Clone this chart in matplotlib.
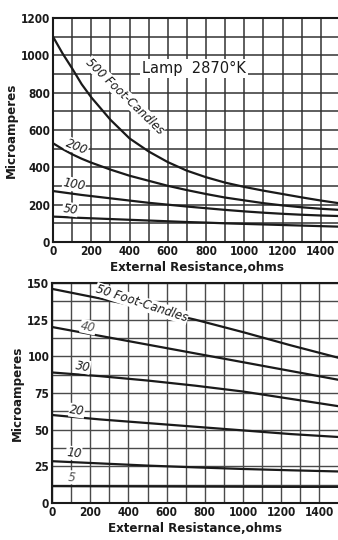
import matplotlib
matplotlib.use("Agg")
import matplotlib.pyplot as plt
import numpy as np

# ---------------- data ----------------
resistance_top = [0, 50, 100, 150, 200, 300, 400, 500, 600, 700, 800, 900, 1000, 1100, 1200, 1300, 1400, 1500]
fc500 = [1100, 1010, 930, 845, 775, 655, 555, 485, 428, 382, 347, 318, 295, 275, 257, 239, 222, 207]
fc200 = [529, 498, 470, 446, 425, 388, 355, 328, 301, 278, 257, 238, 223, 208, 196, 186, 178, 172]
fc100 = [273, 266, 259, 252, 246, 234, 222, 210, 200, 190, 181, 172, 164, 157, 151, 146, 142, 139]
fc50 = [136, 134, 131, 129, 127, 123, 119, 115, 111, 107, 104, 100, 97, 94, 91, 88, 85, 82]

resistance_bot = [0, 250, 500, 750, 1000, 1250, 1500]
b50 = [146, 139.5, 132.5, 125, 116.5, 107.5, 99]
b40 = [120, 114, 108, 102, 96, 90, 84]
b30 = [89, 86.5, 83.5, 80, 76, 71, 66]
b20 = [60, 57, 54.5, 52, 49.5, 47, 45]
b10 = [28.5, 27, 25.5, 24.3, 23.2, 22.3, 21.5]
b5 = [11.5, 11.4, 11.3, 11.2, 11.1, 11.0, 11.0]

top_yticks = [0, 200, 400, 600, 800, 1000, 1200]
bot_yticks = [0, 25, 50, 75, 100, 125, 150]
xticks = [0, 200, 400, 600, 800, 1000, 1200, 1400]

xlabel = "External Resistance,ohms"
ylabel = "Microamperes"

# ---------------- figure ----------------
W, H = 338, 540
fig = plt.figure(figsize=(W / 100, H / 100), dpi=100)
fig.patch.set_facecolor("white")

font = dict(family="DejaVu Sans", fontstretch="condensed", fontweight="bold")
INK = "#1a1a1a"


def style_axes(ax, ymax, ystep, yticks, grid_color, grid_lw):
    ax.set_xlim(0, 1500)
    ax.set_ylim(0, ymax)
    ax.set_xticks(np.arange(0, 1501, 100), minor=True)
    ax.set_yticks(np.arange(0, ymax + 0.01, ystep), minor=True)
    ax.set_xticks(xticks)
    ax.set_yticks(yticks)
    ax.set_xticklabels([str(v) for v in xticks], **font, fontsize=8.5, color=INK)
    ax.set_yticklabels([str(v) for v in yticks], **font, fontsize=8.5, color=INK)
    ax.grid(which="minor", color=grid_color, lw=grid_lw)
    ax.grid(which="major", color=grid_color, lw=grid_lw)
    ax.tick_params(which="both", length=0, pad=2)
    for s in ["left", "bottom", "top"]:
        ax.spines[s].set_linewidth(1.5)
        ax.spines[s].set_color(INK)
    ax.spines["right"].set_visible(False)
    ax.set_axisbelow(True)
    ax.set_xlabel(xlabel, **font, fontsize=9.5, color=INK, labelpad=2)
    ax.set_ylabel(ylabel, **font, fontsize=9.5, color=INK, labelpad=2)


def label(ax, x, y, s, rot, size=8.5, color=INK):
    ax.text(x, y, s, rotation=rot, rotation_mode="anchor", ha="center", va="center",
            family="DejaVu Sans", fontstyle="italic", fontsize=size, color=color,
            bbox=dict(facecolor="white", edgecolor="none", pad=0.3), zorder=4)


# top axes: 0 at x=53, 1500 at x=340 ; y: 1200 at 18, 0 at 242
ax1 = fig.add_axes([53 / W, 1 - 242 / H, 287 / W, 224 / H])
style_axes(ax1, 1200, 100, top_yticks, "#333333", 1.1)
for vals in (fc500, fc200, fc100, fc50):
    ax1.plot(resistance_top, vals, color=INK, lw=1.6, zorder=3)

ax1.text(735, 930, "Lamp  2870°K", ha="center", va="center", family="DejaVu Sans",
         fontsize=10.5, color=INK, bbox=dict(facecolor="white", edgecolor="none", pad=1.5), zorder=4)
label(ax1, 375, 780, "500 Foot-Candles", -44, 8.5)
label(ax1, 125, 510, "200", -22)
label(ax1, 110, 308, "100", -10)
label(ax1, 90, 175, "50", -8)

# bottom axes: 0 at x=52, 1500 at 338.5 ; y: 150 at 283, 0 at 503
ax2 = fig.add_axes([52 / W, 1 - 503 / H, 286.5 / W, 220 / H])
style_axes(ax2, 150, 12.5, bot_yticks, "#4a4a4a", 1.0)
for vals in (b50, b40, b30, b20, b10, b5):
    ax2.plot(resistance_bot, vals, color=INK, lw=1.6, zorder=3)

label(ax2, 470, 136, "50 Foot-Candles", -18, 8.5)
label(ax2, 190, 120, "40", -12, color="#555555")
label(ax2, 160, 93, "30", -10)
label(ax2, 130, 63, "20", -8)
label(ax2, 115, 34, "10", -6)
label(ax2, 105, 17.5, "5", -4, color="#555555")

fig.savefig("out.png", dpi=100, facecolor="white")
